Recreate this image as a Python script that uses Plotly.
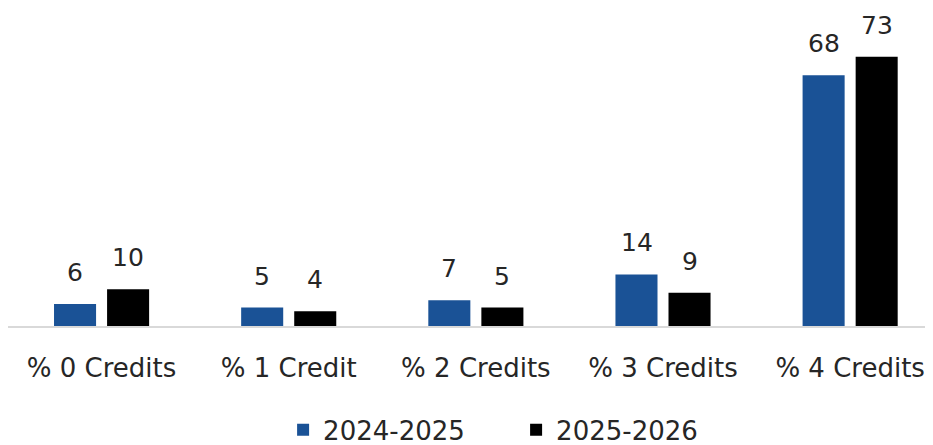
import plotly.graph_objects as go

categories = ["% 0 Credits", "% 1 Credit", "% 2 Credits", "% 3 Credits", "% 4 Credits"]
series_names = ["2024-2025", "2025-2026"]
values_2024 = [6, 5, 7, 14, 68]
values_2025 = [10, 4, 5, 9, 73]

colors = ["#1a5296", "#000000"]
font_family = "DejaVu Sans, Arial, sans-serif"

fig = go.Figure()
for name, vals, col in zip(series_names, [values_2024, values_2025], colors):
    fig.add_trace(go.Bar(x=categories, y=vals, name=name, marker_color=col,
                         marker_line_width=0, hoverinfo="x+y"))

# data labels sit a bit above the bars, so use annotations
for vals, shift in [(values_2024, -26.5), (values_2025, 26.5)]:
    for c, v in zip(categories, vals):
        fig.add_annotation(x=c, y=v, text=str(v), showarrow=False, xshift=shift,
                           yanchor="bottom", yshift=15,
                           font=dict(size=25, color="#262626", family=font_family))

fig.update_layout(
    width=933, height=445,
    margin=dict(l=8, r=8, t=31, b=119, autoexpand=False),
    plot_bgcolor="white", paper_bgcolor="white",
    barmode="group", bargap=0.433, bargroupgap=0.2075,
    font=dict(family=font_family, size=26, color="#262626"),
    showlegend=True,
    legend=dict(orientation="h", x=0.30, xanchor="left", y=-0.352, yanchor="middle",
                font=dict(size=26), itemwidth=30, entrywidth=188, traceorder="normal"),
)
fig.update_xaxes(range=[-0.5, 4.4], showline=True, linecolor="#d9d9d9", linewidth=2,
                 ticks="", ticklabelstandoff=18, tickfont=dict(size=26), automargin=False)
fig.update_yaxes(range=[0, 80], visible=False, showgrid=False, zeroline=False,
                 automargin=False)

# page body has a default 8px margin; drop it so the figure fills the window
fig.write_html("out.html", config={"displayModeBar": False},
               post_script="document.body.style.margin='0';")
